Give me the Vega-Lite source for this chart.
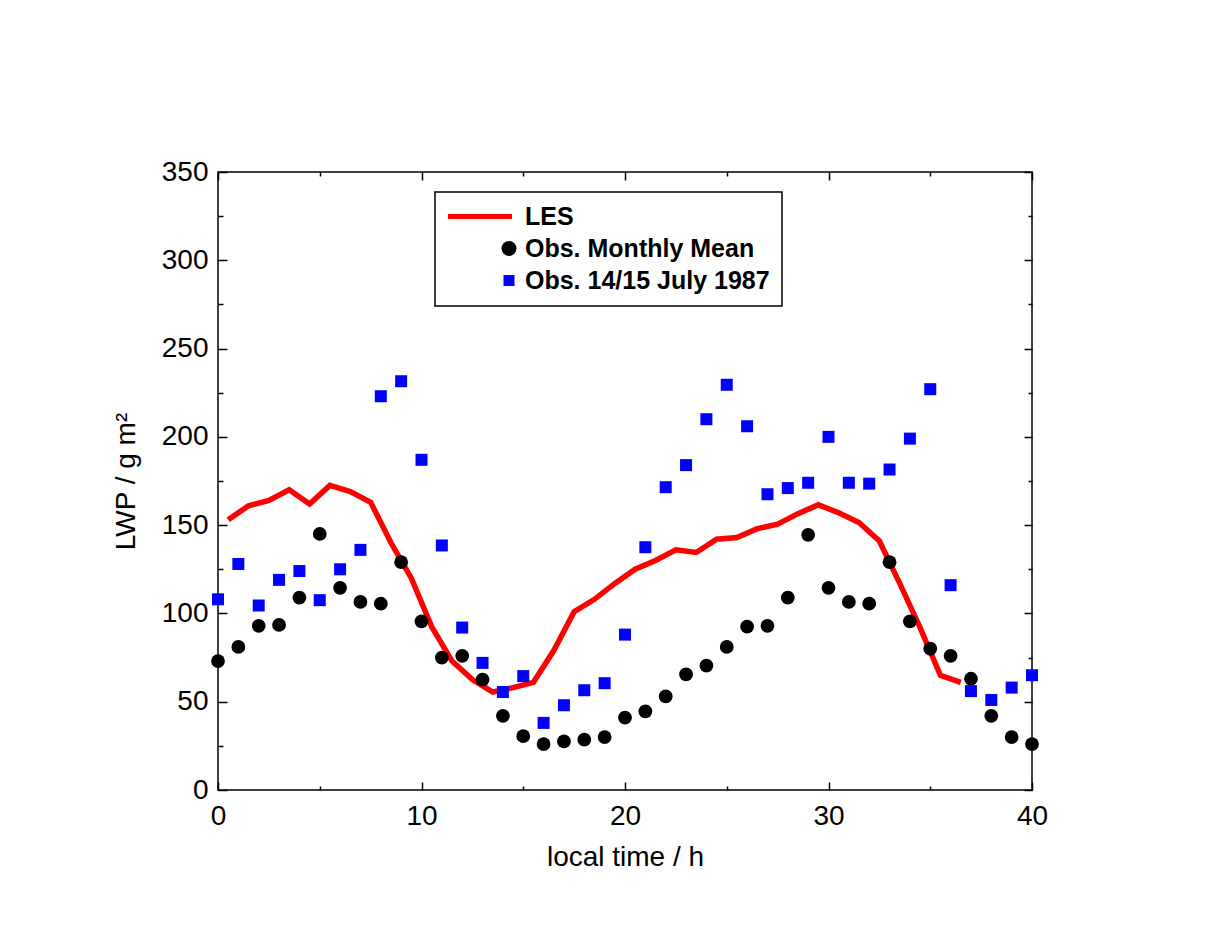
{
  "$schema": "https://vega.github.io/schema/vega-lite/v6.json",
  "width": 814,
  "height": 618,
  "autosize": "none",
  "padding": {"left": 218, "top": 172, "right": 186, "bottom": 160},
  "background": "white",
  "config": {
    "view": {"stroke": "#000000", "strokeWidth": 1.5},
    "font": "Liberation Sans"
  },
  "datasets": {
    "les": [
      {"series": "LES", "t": 0.5, "v": 153},
      {"series": "LES", "t": 1.5, "v": 161},
      {"series": "LES", "t": 2.5, "v": 164},
      {"series": "LES", "t": 3.5, "v": 170},
      {"series": "LES", "t": 4.5, "v": 162},
      {"series": "LES", "t": 5.5, "v": 172.5},
      {"series": "LES", "t": 6.5, "v": 169},
      {"series": "LES", "t": 7.5, "v": 163},
      {"series": "LES", "t": 8.5, "v": 140},
      {"series": "LES", "t": 9.5, "v": 120},
      {"series": "LES", "t": 10.5, "v": 92.5},
      {"series": "LES", "t": 11.5, "v": 73},
      {"series": "LES", "t": 12.5, "v": 62.5},
      {"series": "LES", "t": 13.5, "v": 55.5},
      {"series": "LES", "t": 14.5, "v": 58},
      {"series": "LES", "t": 15.5, "v": 61},
      {"series": "LES", "t": 16.5, "v": 79},
      {"series": "LES", "t": 17.5, "v": 101},
      {"series": "LES", "t": 18.5, "v": 108},
      {"series": "LES", "t": 19.5, "v": 117},
      {"series": "LES", "t": 20.5, "v": 125},
      {"series": "LES", "t": 21.5, "v": 130},
      {"series": "LES", "t": 22.5, "v": 136},
      {"series": "LES", "t": 23.5, "v": 134.5},
      {"series": "LES", "t": 24.5, "v": 142},
      {"series": "LES", "t": 25.5, "v": 143},
      {"series": "LES", "t": 26.5, "v": 148},
      {"series": "LES", "t": 27.5, "v": 150.5},
      {"series": "LES", "t": 28.5, "v": 156.5},
      {"series": "LES", "t": 29.5, "v": 161.5},
      {"series": "LES", "t": 30.5, "v": 157},
      {"series": "LES", "t": 31.5, "v": 151.5},
      {"series": "LES", "t": 32.5, "v": 141},
      {"series": "LES", "t": 33.5, "v": 117},
      {"series": "LES", "t": 34.5, "v": 92},
      {"series": "LES", "t": 35.5, "v": 65},
      {"series": "LES", "t": 36.5, "v": 61}
    ],
    "obs": [
      {"series": "Obs. Monthly Mean", "t": 0, "v": 73},
      {"series": "Obs. Monthly Mean", "t": 1, "v": 81},
      {"series": "Obs. Monthly Mean", "t": 2, "v": 93},
      {"series": "Obs. Monthly Mean", "t": 3, "v": 93.5},
      {"series": "Obs. Monthly Mean", "t": 4, "v": 109},
      {"series": "Obs. Monthly Mean", "t": 5, "v": 145},
      {"series": "Obs. Monthly Mean", "t": 6, "v": 114.5},
      {"series": "Obs. Monthly Mean", "t": 7, "v": 106.5},
      {"series": "Obs. Monthly Mean", "t": 8, "v": 105.5},
      {"series": "Obs. Monthly Mean", "t": 9, "v": 129},
      {"series": "Obs. Monthly Mean", "t": 10, "v": 95.5},
      {"series": "Obs. Monthly Mean", "t": 11, "v": 75},
      {"series": "Obs. Monthly Mean", "t": 12, "v": 76},
      {"series": "Obs. Monthly Mean", "t": 13, "v": 62.5},
      {"series": "Obs. Monthly Mean", "t": 14, "v": 42},
      {"series": "Obs. Monthly Mean", "t": 15, "v": 30.5},
      {"series": "Obs. Monthly Mean", "t": 16, "v": 26},
      {"series": "Obs. Monthly Mean", "t": 17, "v": 27.5},
      {"series": "Obs. Monthly Mean", "t": 18, "v": 28.5},
      {"series": "Obs. Monthly Mean", "t": 19, "v": 30},
      {"series": "Obs. Monthly Mean", "t": 20, "v": 41},
      {"series": "Obs. Monthly Mean", "t": 21, "v": 44.5},
      {"series": "Obs. Monthly Mean", "t": 22, "v": 53},
      {"series": "Obs. Monthly Mean", "t": 23, "v": 65.5},
      {"series": "Obs. Monthly Mean", "t": 24, "v": 70.5},
      {"series": "Obs. Monthly Mean", "t": 25, "v": 81},
      {"series": "Obs. Monthly Mean", "t": 26, "v": 92.5},
      {"series": "Obs. Monthly Mean", "t": 27, "v": 93},
      {"series": "Obs. Monthly Mean", "t": 28, "v": 109},
      {"series": "Obs. Monthly Mean", "t": 29, "v": 144.5},
      {"series": "Obs. Monthly Mean", "t": 30, "v": 114.5},
      {"series": "Obs. Monthly Mean", "t": 31, "v": 106.5},
      {"series": "Obs. Monthly Mean", "t": 32, "v": 105.5},
      {"series": "Obs. Monthly Mean", "t": 33, "v": 129},
      {"series": "Obs. Monthly Mean", "t": 34, "v": 95.5},
      {"series": "Obs. Monthly Mean", "t": 35, "v": 80},
      {"series": "Obs. Monthly Mean", "t": 36, "v": 76},
      {"series": "Obs. Monthly Mean", "t": 37, "v": 63},
      {"series": "Obs. Monthly Mean", "t": 38, "v": 42},
      {"series": "Obs. Monthly Mean", "t": 39, "v": 30},
      {"series": "Obs. Monthly Mean", "t": 40, "v": 26},
      {"series": "Obs. 14/15 July 1987", "t": 0, "v": 108},
      {"series": "Obs. 14/15 July 1987", "t": 1, "v": 128},
      {"series": "Obs. 14/15 July 1987", "t": 2, "v": 104.5},
      {"series": "Obs. 14/15 July 1987", "t": 3, "v": 119},
      {"series": "Obs. 14/15 July 1987", "t": 4, "v": 124},
      {"series": "Obs. 14/15 July 1987", "t": 5, "v": 107.5},
      {"series": "Obs. 14/15 July 1987", "t": 6, "v": 125},
      {"series": "Obs. 14/15 July 1987", "t": 7, "v": 136},
      {"series": "Obs. 14/15 July 1987", "t": 8, "v": 223},
      {"series": "Obs. 14/15 July 1987", "t": 9, "v": 231.5},
      {"series": "Obs. 14/15 July 1987", "t": 10, "v": 187},
      {"series": "Obs. 14/15 July 1987", "t": 11, "v": 138.5},
      {"series": "Obs. 14/15 July 1987", "t": 12, "v": 92},
      {"series": "Obs. 14/15 July 1987", "t": 13, "v": 72},
      {"series": "Obs. 14/15 July 1987", "t": 14, "v": 55.5},
      {"series": "Obs. 14/15 July 1987", "t": 15, "v": 64.5},
      {"series": "Obs. 14/15 July 1987", "t": 16, "v": 38},
      {"series": "Obs. 14/15 July 1987", "t": 17, "v": 48},
      {"series": "Obs. 14/15 July 1987", "t": 18, "v": 56.5},
      {"series": "Obs. 14/15 July 1987", "t": 19, "v": 60.5},
      {"series": "Obs. 14/15 July 1987", "t": 20, "v": 88},
      {"series": "Obs. 14/15 July 1987", "t": 21, "v": 137.5},
      {"series": "Obs. 14/15 July 1987", "t": 22, "v": 171.5},
      {"series": "Obs. 14/15 July 1987", "t": 23, "v": 184},
      {"series": "Obs. 14/15 July 1987", "t": 24, "v": 210},
      {"series": "Obs. 14/15 July 1987", "t": 25, "v": 229.5},
      {"series": "Obs. 14/15 July 1987", "t": 26, "v": 206},
      {"series": "Obs. 14/15 July 1987", "t": 27, "v": 167.5},
      {"series": "Obs. 14/15 July 1987", "t": 28, "v": 171},
      {"series": "Obs. 14/15 July 1987", "t": 29, "v": 174},
      {"series": "Obs. 14/15 July 1987", "t": 30, "v": 200},
      {"series": "Obs. 14/15 July 1987", "t": 31, "v": 174},
      {"series": "Obs. 14/15 July 1987", "t": 32, "v": 173.5},
      {"series": "Obs. 14/15 July 1987", "t": 33, "v": 181.5},
      {"series": "Obs. 14/15 July 1987", "t": 34, "v": 199},
      {"series": "Obs. 14/15 July 1987", "t": 35, "v": 227},
      {"series": "Obs. 14/15 July 1987", "t": 36, "v": 116},
      {"series": "Obs. 14/15 July 1987", "t": 37, "v": 56},
      {"series": "Obs. 14/15 July 1987", "t": 38, "v": 51},
      {"series": "Obs. 14/15 July 1987", "t": 39, "v": 58},
      {"series": "Obs. 14/15 July 1987", "t": 40, "v": 65}
    ]
  },
  "layer": [
    {
      "data": {"name": "les"},
      "mark": {"type": "line", "color": "#ff0000", "strokeWidth": 5.5, "strokeJoin": "miter", "clip": true},
      "encoding": {
        "x": {
          "field": "t", "type": "quantitative",
          "scale": {"domain": [0, 40], "nice": false, "zero": false},
          "axis": {
            "orient": "bottom",
            "values": [0, 5, 10, 15, 20, 25, 30, 35, 40],
            "labelExpr": "datum.value % 10 === 0 ? datum.label : ''",
            "tickSize": {"condition": {"test": "datum.value % 10 === 0", "value": -8}, "value": -4},
            "tickColor": "#000000", "tickWidth": 1.5,
            "domain": false, "grid": false,
            "labelFont": "Liberation Sans", "labelFontSize": 28, "labelColor": "#000000",
            "labelPadding": 20, "labelFlush": false, "labelOverlap": false,
            "title": "local time / h",
            "titleFont": "Liberation Sans", "titleFontSize": 28, "titleFontWeight": "normal", "titleColor": "#000000",
            "titlePadding": 9
          }
        },
        "y": {
          "field": "v", "type": "quantitative",
          "scale": {"domain": [0, 350], "nice": false},
          "axis": {
            "orient": "left",
            "values": [0, 25, 50, 75, 100, 125, 150, 175, 200, 225, 250, 275, 300, 325, 350],
            "labelExpr": "datum.value % 50 === 0 ? datum.label : ''",
            "tickSize": {"condition": {"test": "datum.value % 50 === 0", "value": -9}, "value": -5},
            "tickColor": "#000000", "tickWidth": 1.5,
            "domain": false, "grid": false,
            "labelFont": "Liberation Sans", "labelFontSize": 28, "labelColor": "#000000",
            "labelPadding": 19, "labelFlush": false, "labelOverlap": false,
            "title": "LWP / g m²",
            "titleFont": "Liberation Sans", "titleFontSize": 28, "titleFontWeight": "normal", "titleColor": "#000000",
            "titlePadding": 21
          }
        },
        "color": {
          "field": "series", "type": "nominal",
          "scale": {
            "domain": ["LES", "Obs. Monthly Mean", "Obs. 14/15 July 1987"],
            "range": ["#ff0000", "#000000", "#0000ff"]
          },
          "legend": {
            "orient": "none",
            "legendX": 217,
            "legendY": 20,
            "title": null,
            "padding": 12,
            "fillColor": "#ffffff",
            "strokeColor": "#000000",
            "labelFont": "Liberation Sans",
            "labelFontSize": 25,
            "labelFontWeight": "bold",
            "labelColor": "#000000",
            "labelOffset": 53,
            "labelLimit": 400,
            "symbolSize": 225,
            "symbolStrokeWidth": 0,
            "rowPadding": 6,
            "encode": {
              "legend": {"update": {"strokeWidth": {"value": 1.5}}},
              "symbols": {
                "update": {
                  "shape": {"signal": "datum.value === 'LES' ? 'stroke' : (datum.value === 'Obs. Monthly Mean' ? 'circle' : 'square')"},
                  "fill": {"signal": "datum.value === 'LES' ? 'transparent' : scale('color', datum.value)"},
                  "stroke": {"signal": "datum.value === 'LES' ? '#ff0000' : 'transparent'"},
                  "strokeWidth": {"signal": "datum.value === 'LES' ? 5 : 0"},
                  "size": {"signal": "datum.value === 'LES' ? 4096 : (datum.value === 'Obs. Monthly Mean' ? 225 : 121)"},
                  "x": {"signal": "datum.value === 'LES' ? 33 : 62"},
                  "opacity": {"value": 1}
                }
              }
            }
          }
        }
      }
    },
    {
      "data": {"name": "obs"},
      "mark": {"type": "point", "filled": true, "opacity": 1, "strokeWidth": 0},
      "encoding": {
        "x": {
          "field": "t", "type": "quantitative",
          "axis": {
            "orient": "top",
            "values": [0, 5, 10, 15, 20, 25, 30, 35, 40],
            "labels": false,
            "tickSize": {"condition": {"test": "datum.value % 10 === 0", "value": -8}, "value": -4},
            "tickColor": "#000000", "tickWidth": 1.5,
            "domain": false, "grid": false, "title": null
          }
        },
        "y": {
          "field": "v", "type": "quantitative",
          "axis": {
            "orient": "right",
            "values": [0, 25, 50, 75, 100, 125, 150, 175, 200, 225, 250, 275, 300, 325, 350],
            "labels": false,
            "tickSize": {"condition": {"test": "datum.value % 50 === 0", "value": -8}, "value": -4},
            "tickColor": "#000000", "tickWidth": 1.5,
            "domain": false, "grid": false, "title": null
          }
        },
        "color": {"field": "series", "type": "nominal"},
        "shape": {
          "field": "series", "type": "nominal",
          "scale": {
            "domain": ["Obs. Monthly Mean", "Obs. 14/15 July 1987"],
            "range": ["circle", "square"]
          },
          "legend": null
        },
        "size": {
          "condition": {"test": "datum.series === 'Obs. Monthly Mean'", "value": 190},
          "value": 144
        }
      }
    }
  ],
  "resolve": {"axis": {"x": "independent", "y": "independent"}}
}
